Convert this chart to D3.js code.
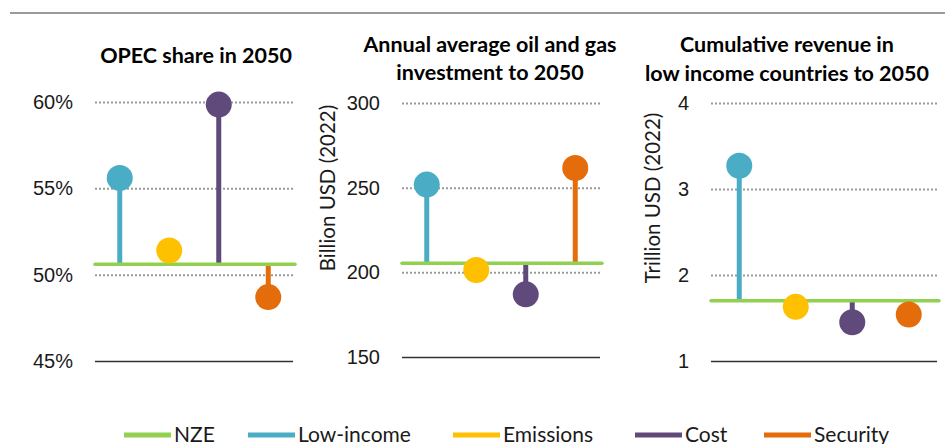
<!DOCTYPE html>
<html>
<head>
<meta charset="utf-8">
<script src="https://cdn.jsdelivr.net/npm/d3@7"></script>
<style>
  html, body { margin: 0; padding: 0; background: #fff; }
  svg { display: block; font-family: Lato, "Open Sans", sans-serif; }
  .tick text { font-size: 20px; fill: #1a1a1a; }
  .ptitle { font-size: 21.5px; font-weight: bold; fill: #000; }
  .ytitle { font-size: 20.5px; fill: #1a1a1a; }
  .legend text { font-size: 21px; fill: #1a1a1a; }
</style>
</head>
<body>
<svg id="chart" width="945" height="444"></svg>
<script>
  // Scenario names and colours (NZE is the reference line)
  const series = ["Low-income", "Emissions", "Cost", "Security"];
  const legendNames = ["NZE", "Low-income", "Emissions", "Cost", "Security"];
  const colors = {
    NZE: "#92d050",
    "Low-income": "#4bacc6",
    Emissions: "#ffc000",
    Cost: "#604a7b",
    Security: "#e46c0a",
  };

  // Panel 1: OPEC share in 2050 (%)
  const opecNZE = 50.6;
  const opecValues = [55.6, 51.4, 59.85, 48.7];
  const opecTicks = [45, 50, 55, 60];

  // Panel 2: annual average oil and gas investment to 2050 (billion USD 2022)
  const investNZE = 205.3;
  const investValues = [251.8, 201.4, 187, 261.6];
  const investTicks = [150, 200, 250, 300];

  // Panel 3: cumulative revenue in low income countries to 2050 (trillion USD 2022)
  const revenueNZE = 1.7;
  const revenueValues = [3.27, 1.63, 1.45, 1.54];
  const revenueTicks = [1, 2, 3, 4];

  const svg = d3.select("#chart");

  // top rule
  svg.append("line")
    .attr("x1", 10).attr("x2", 945)
    .attr("y1", 13).attr("y2", 13)
    .attr("stroke", "#9a9a9a").attr("stroke-width", 2);

  const panels = [
    {
      title: ["OPEC share in 2050"], titleX: 196, titleY: [63],
      ytitle: null,
      x0: 95, x1: 293, yTop: 102, yBot: 361,
      nze: opecNZE, values: opecValues, ticks: opecTicks,
      fmt: (d) => d + "%",
    },
    {
      title: ["Annual average oil and gas", "investment to 2050"], titleX: 490, titleY: [52, 80],
      ytitle: "Billion USD (2022)", ytX: 327, ytY: 188,
      x0: 402, x1: 600, yTop: 103, yBot: 357,
      nze: investNZE, values: investValues, ticks: investTicks,
      fmt: (d) => d,
    },
    {
      title: ["Cumulative revenue in", "low income countries to 2050"], titleX: 787, titleY: [52, 81],
      ytitle: "Trillion USD (2022)", ytX: 652, ytY: 198,
      x0: 711, x1: 937, yTop: 103, yBot: 361,
      nze: revenueNZE, values: revenueValues, ticks: revenueTicks,
      fmt: (d) => d,
    },
  ];

  panels.forEach((p) => {
    const g = svg.append("g");
    const x = d3.scaleBand().domain(series).range([p.x0, p.x1]);
    const y = d3.scaleLinear()
      .domain(d3.extent(p.ticks))
      .range([p.yBot, p.yTop]);

    // axis with gridlines
    const ax = g.append("g")
      .attr("transform", `translate(${p.x0},0)`)
      .call(d3.axisLeft(y).tickValues(p.ticks).tickFormat(p.fmt)
        .tickSize(-(p.x1 - p.x0)).tickPadding(22));
    ax.select(".domain").remove();
    ax.selectAll(".tick line")
      .attr("stroke", (d) => (d === p.ticks[0] ? "#333" : "#9a9a9a"))
      .attr("stroke-width", (d) => (d === p.ticks[0] ? 1.3 : 2))
      .attr("stroke-dasharray", (d) => (d === p.ticks[0] ? null : "2,2"));
    ax.selectAll(".tick text").attr("font-family", null).attr("font-size", null);

    // title
    const t = g.append("text").attr("class", "ptitle")
      .attr("text-anchor", "middle");
    p.title.forEach((line, i) => {
      t.append("tspan").attr("x", p.titleX).attr("y", p.titleY[i]).text(line);
    });

    // y axis title
    if (p.ytitle) {
      g.append("text").attr("class", "ytitle")
        .attr("text-anchor", "middle")
        .attr("dominant-baseline", "central")
        .attr("transform", `translate(${p.ytX},${p.ytY}) rotate(-90)`)
        .text(p.ytitle);
    }

    const data = series.map((s, i) => ({ s, v: p.values[i] }));
    const cx = (d) => x(d.s) + x.bandwidth() / 2;

    // stems
    g.selectAll("line.stem").data(data).enter().append("line")
      .attr("class", "stem")
      .attr("x1", cx).attr("x2", cx)
      .attr("y1", y(p.nze)).attr("y2", (d) => y(d.v))
      .attr("stroke", (d) => colors[d.s])
      .attr("stroke-width", 5);

    // NZE reference line
    g.append("line")
      .attr("x1", p.x0).attr("x2", p.x1 + 2)
      .attr("y1", y(p.nze)).attr("y2", y(p.nze))
      .attr("stroke", colors.NZE).attr("stroke-width", 3.5)
      .attr("stroke-linecap", "round");

    // dots
    g.selectAll("circle.dot").data(data).enter().append("circle")
      .attr("class", "dot")
      .attr("cx", cx).attr("cy", (d) => y(d.v))
      .attr("r", 13)
      .attr("fill", (d) => colors[d.s]);
  });

  // legend
  const legendX = [124, 248, 453, 635, 764];
  const lg = svg.append("g").attr("class", "legend");
  const items = lg.selectAll("g").data(legendNames).enter().append("g")
    .attr("transform", (d, i) => `translate(${legendX[i]},435)`);
  items.append("line")
    .attr("x1", 0).attr("x2", 47)
    .attr("stroke", (d) => colors[d]).attr("stroke-width", 5);
  items.append("text")
    .attr("x", 50).attr("y", 6.5)
    .text((d) => d);
</script>
</body>
</html>
